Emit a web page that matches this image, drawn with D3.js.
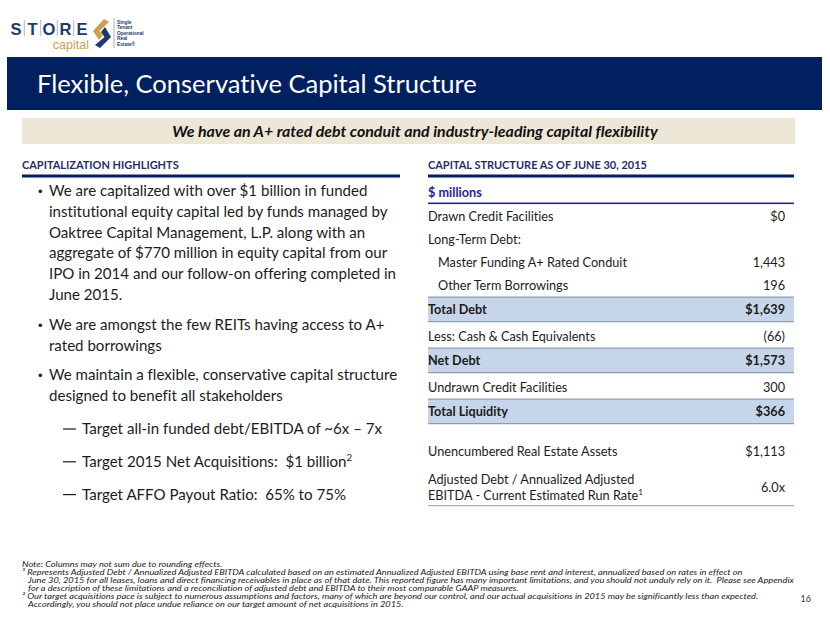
<!DOCTYPE html>
<html><head><meta charset="utf-8">
<script src="https://cdn.jsdelivr.net/npm/d3@7"></script>
<style>html,body{margin:0;padding:0;background:#fff;}svg{display:block;}svg text{white-space:pre;font-variant-ligatures:none;}</style>
</head><body>
<svg id="slide" width="830" height="623"></svg>
<script>
(function(){
// ---------- DATA ----------
const titleText = "Flexible, Conservative Capital Structure";
const subtitleText = "We have an A+ rated debt conduit and industry-leading capital flexibility";
const leftHeader = "CAPITALIZATION HIGHLIGHTS";
const rightHeader = "CAPITAL STRUCTURE AS OF JUNE 30, 2015";
const unitLabel = "$ millions";
const logoLetters = ["S","T","O","R","E"];
const logoTagline = ["Single","Tenant","Operational","Real","Estate®"];

const bullets = [
  {level:1, lines:["We are capitalized with over $1 billion in funded","institutional equity capital led by funds managed by","Oaktree Capital Management, L.P. along with an","aggregate of $770 million in equity capital from our","IPO in 2014 and our follow-on offering completed in","June 2015."]},
  {level:1, lines:["We are amongst the few REITs having access to A+","rated borrowings"]},
  {level:1, lines:["We maintain a flexible, conservative capital structure","designed to benefit all stakeholders"]},
  {level:2, lines:["Target all-in funded debt/EBITDA of ~6x – 7x"]},
  {level:2, lines:["Target 2015 Net Acquisitions:  $1 billion²"]},
  {level:2, lines:["Target AFFO Payout Ratio:  65% to 75%"]}
];

const rowLabels = ["Drawn Credit Facilities","Long-Term Debt:","Master Funding A+ Rated Conduit","Other Term Borrowings","Total Debt","Less: Cash & Cash Equivalents","Net Debt","Undrawn Credit Facilities","Total Liquidity","Unencumbered Real Estate Assets","Adjusted Debt / Annualized Adjusted|EBITDA - Current Estimated Run Rate¹"];
const rowValues = ["$0","","1,443","196","$1,639","(66)","$1,573","300","$366","$1,113","6.0x"];
const rowTypes  = ["item","item","indent","indent","total","item","total","item","total","spaced","double"];

const footnotes = [
  {indent:false, text:"Note: Columns may not sum due to rounding effects."},
  {indent:false, text:"¹ Represents Adjusted Debt / Annualized Adjusted EBITDA calculated based on an estimated Annualized Adjusted EBITDA using base rent and interest, annualized based on rates in effect on"},
  {indent:true,  text:"June 30, 2015 for all leases, loans and direct financing receivables in place as of that date. This reported figure has many important limitations, and you should not unduly rely on it.  Please see Appendix"},
  {indent:true,  text:"for a description of these limitations and a reconciliation of adjusted debt and EBITDA to their most comparable GAAP measures."},
  {indent:false, text:"² Our target acquisitions pace is subject to numerous assumptions and factors, many of which are beyond our control, and our actual acquisitions in 2015 may be significantly less than expected."},
  {indent:true,  text:"Accordingly, you should not place undue reliance on our target amount of net acquisitions in 2015."}
];
const pageNumber = "16";

// ---------- STYLE ----------
const FONT = "Lato, 'Open Sans', sans-serif";
const NAVY = "#002060";
const HEAD = "#1f2f6b";
const TEXT = "#1c1c1c";
const BAND = "#c6d5ea";
const BAND_LINE = "#8e9bb0";
const UNIT_BLUE = "#23239a";
const GOLD = "#c9a24a";

const svg = d3.select("#slide");

function fitOne(t, target) {
  const fs = +t.attr("font-size");
  const w = t.node().getComputedTextLength();
  if (w > 0) t.attr("font-size", fs * target / w);
}

// ---------- LOGO ----------
const logo = svg.append("g");
const letterX = d3.scalePoint().domain(logoLetters).range([16, 82]);
logo.selectAll("text.L").data(logoLetters).join("text")
  .attr("x", d => letterX(d)).attr("y", 34.5)
  .attr("text-anchor","middle").attr("font-family","'Liberation Sans', Arial, sans-serif")
  .attr("font-weight","bold").attr("font-size",16.5).attr("fill","#1d3a6e").text(d => d);
logo.selectAll("line.sep").data(logoLetters.slice(1)).join("line")
  .attr("x1", (d,i) => (letterX(logoLetters[i]) + letterX(d))/2)
  .attr("x2", (d,i) => (letterX(logoLetters[i]) + letterX(d))/2)
  .attr("y1", 20).attr("y2", 36).attr("stroke","#9aa3b5").attr("stroke-width",0.8);
logo.append("text").attr("x", 89).attr("y", 49).attr("text-anchor","end")
  .attr("font-family","'Liberation Sans', Arial, sans-serif").attr("font-size",12.5)
  .attr("fill", GOLD).text("capital");
logo.append("path").attr("d","M104,19 L93,31 L99,40 L103,35 L99.5,31 L109,22 Z").attr("fill", GOLD);
logo.append("path").attr("d","M100,48 L111,37 L105,27 L101,32 L104.5,37 L95,45 Z").attr("fill","#1d3a6e");
logo.append("line").attr("x1",114).attr("x2",114).attr("y1",18).attr("y2",48).attr("stroke","#8f9ab0").attr("stroke-width",0.8);
logo.selectAll("text.tag").data(logoTagline).join("text")
  .attr("x",117).attr("y",(d,i)=>24 + i*5.4)
  .attr("font-family","'Liberation Sans', Arial, sans-serif").attr("font-size",4.8)
  .attr("font-weight","bold").attr("fill","#1d3a6e").text(d=>d);

// ---------- HEADER BAR ----------
svg.append("rect").attr("x",7).attr("y",57).attr("width",815).attr("height",53).attr("fill",NAVY);
const title = svg.append("text").attr("x",37).attr("y",93)
  .attr("font-family",FONT).attr("font-size",26).attr("fill","#fff").text(titleText);
fitOne(title, 440);

// ---------- SUBTITLE BAND ----------
svg.append("rect").attr("x",22).attr("y",118).attr("width",773).attr("height",26).attr("fill","#ece7d7");
const sub = svg.append("text").attr("x",415).attr("y",136.5).attr("text-anchor","middle")
  .attr("font-family",FONT).attr("font-weight","bold").attr("font-style","italic")
  .attr("font-size",15).attr("fill","#111").text(subtitleText);
fitOne(sub, 486);

// ---------- SECTION HEADERS ----------
const lh = svg.append("text").attr("x",22).attr("y",169).attr("font-family",FONT)
  .attr("font-weight","bold").attr("font-size",12).attr("fill",HEAD).text(leftHeader);
const rh = svg.append("text").attr("x",428).attr("y",169).attr("font-family",FONT)
  .attr("font-weight","bold").attr("font-size",12).attr("fill",HEAD).text(rightHeader);
{
  const k = 219 / rh.node().getComputedTextLength();
  lh.attr("font-size", 12*k); rh.attr("font-size", 12*k);
}
svg.append("rect").attr("x",22).attr("y",174.5).attr("width",378).attr("height",3).attr("fill",NAVY);
svg.append("rect").attr("x",428).attr("y",174.5).attr("width",366).attr("height",3).attr("fill",NAVY);

// ---------- LEFT BULLETS ----------
const bg = svg.append("g");
const lineH = 20.8;
let y = 196;
const lineTexts = [];
bullets.forEach((b, bi) => {
  if (bi > 0) y += lineH + (b.level === 1 ? 9 : 12);
  const tx = b.level === 1 ? 49 : 82;
  if (b.level === 1) {
    bg.append("text").attr("x",38).attr("y",y).attr("font-family","Arial, sans-serif")
      .attr("font-size",13).attr("fill",TEXT).text("•");
  } else {
    bg.append("line").attr("x1",63).attr("x2",76).attr("y1",y-5).attr("y2",y-5)
      .attr("stroke",TEXT).attr("stroke-width",1.2);
  }
  b.lines.forEach((ln, li) => {
    if (li > 0) y += lineH;
    const t = bg.append("text").attr("class","bl").attr("x",tx).attr("y",y)
      .attr("font-family",FONT).attr("font-size",16).attr("fill",TEXT);
    const m = ln.match(/^(.*?)(²)$/);
    if (m) {
      t.append("tspan").text(m[1]);
      t.append("tspan").attr("baseline-shift","super").attr("font-size","65%").text("2");
    } else t.text(ln);
    lineTexts.push(t);
  });
});
{
  const k = 339 / lineTexts[1].node().getComputedTextLength();
  bg.selectAll("text.bl").attr("font-size", 16*k);
}

// ---------- TABLE ----------
const tg = svg.append("g");
const tx0 = 428, tx1 = 794, valX = 785;
const unit = tg.append("text").attr("x",tx0).attr("y",197).attr("font-family",FONT)
  .attr("font-weight","bold").attr("font-size",13).attr("fill",UNIT_BLUE).text(unitLabel);
tg.append("rect").attr("x",tx0).attr("y",202.5).attr("width",tx1-tx0).attr("height",1.6).attr("fill",UNIT_BLUE);

const rows = rowLabels.map((label, i) => ({label, value: rowValues[i], type: rowTypes[i]}));
let rowTop = 204;
rows.forEach((r, i) => {
  const prev = i > 0 ? rows[i-1].type : null;
  let h, base;
  if (r.type === "total") { h = 24.5; base = 17; }
  else if (r.type === "spaced") { h = 38; base = 32; }
  else if (r.type === "double") { h = 44; base = 22; }
  else if (prev === "total") { h = 26.5; base = 19.5; }
  else { h = 23.3; base = 16.5; }
  r.top = rowTop; r.h = h; r.base = rowTop + base;
  rowTop += h;
});

rows.filter(r => r.type === "total").forEach(r => {
  tg.append("rect").attr("x",tx0).attr("y",r.top).attr("width",tx1-tx0).attr("height",r.h).attr("fill",BAND);
  [r.top, r.top + r.h].forEach(yy => tg.append("line").attr("x1",tx0).attr("x2",tx1)
    .attr("y1",yy).attr("y2",yy).attr("stroke",BAND_LINE).attr("stroke-width",1.2));
});
const last = rows[rows.length-1];
tg.append("line").attr("x1",tx0).attr("x2",tx1).attr("y1",last.top+last.h).attr("y2",last.top+last.h)
  .attr("stroke","#9a9a9a").attr("stroke-width",1);

const tableTexts = [];
rows.forEach(r => {
  const bold = r.type === "total";
  const lx = r.type === "indent" ? 438 : tx0;
  const parts = r.label.split("|");
  parts.forEach((p, pi) => {
    const t = tg.append("text").attr("class","tt").attr("x",lx).attr("y", r.base + pi*16)
      .attr("font-family",FONT).attr("font-size",13).attr("fill",TEXT)
      .attr("font-weight", bold ? "bold" : "normal");
    const m = p.match(/^(.*?)(¹)$/);
    if (m) {
      t.append("tspan").text(m[1]);
      t.append("tspan").attr("baseline-shift","super").attr("font-size","65%").text("1");
    } else t.text(p);
    tableTexts.push({t, label:p});
  });
  if (r.value) {
    tg.append("text").attr("class","tt").attr("x",valX)
      .attr("y", r.type === "double" ? r.base + 8 : r.base)
      .attr("text-anchor","end").attr("font-family",FONT).attr("font-size",13).attr("fill",TEXT)
      .attr("font-weight", bold ? "bold" : "normal").text(r.value);
  }
});
{
  const ref = tableTexts.find(d => d.label === rowLabels[2]).t.node();
  const k = 189 / ref.getComputedTextLength();
  tg.selectAll("text.tt").attr("font-size", 13*k);
  unit.attr("font-size", 13*k);
}

// ---------- FOOTNOTES ----------
const fg = svg.append("g");
const fts = footnotes.map((f, i) => fg.append("text").attr("class","fn")
  .attr("x", f.indent ? 27 : 22).attr("y", 567.5 + i*8)
  .attr("font-family",FONT).attr("font-style","italic").attr("font-size",7.6)
  .attr("fill","#1a1a1a").text(f.text));
{
  const k = 766 / fts[2].node().getComputedTextLength();
  fg.attr("transform", `translate(22,0) scale(${k},1) translate(-22,0)`);
}
svg.append("text").attr("x",811).attr("y",602).attr("text-anchor","end")
  .attr("font-family",FONT).attr("font-size",9).attr("fill","#333").text(pageNumber);
})();
</script>
</body></html>
